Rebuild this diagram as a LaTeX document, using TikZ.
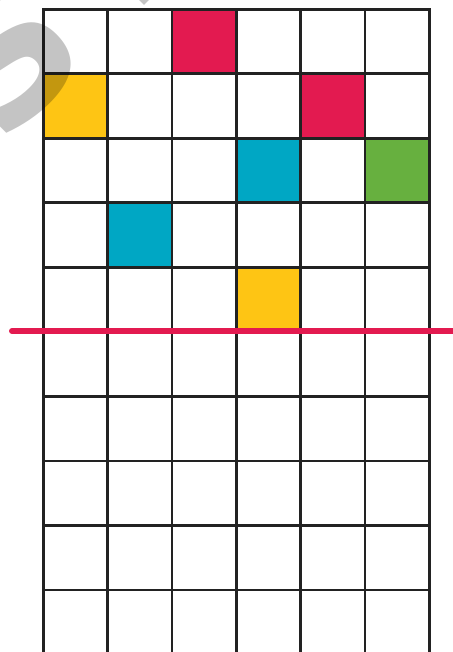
\documentclass[tikz,border=0pt]{standalone}
\usepackage{fontspec}
\newfontfamily\wmfont{DejaVu Sans}
\definecolor{cred}{HTML}{E31A50}
\definecolor{cyellow}{HTML}{FEC514}
\definecolor{cblue}{HTML}{00A7C4}
\definecolor{cgreen}{HTML}{67B03F}
\definecolor{cgrid}{HTML}{222222}
\begin{document}
\begin{tikzpicture}[x=1pt,y=-1pt,
  cell/.style={draw=cgrid, line width=2.6pt, minimum width=64.33pt, minimum height=64.5pt, inner sep=0pt, anchor=north west},
  divider/.style={draw=cred, line width=6pt, line cap=round},
  wmark/.style={font=\wmfont\bfseries\fontsize{185}{185}\selectfont, text=black, text opacity=0.23, rotate=45, anchor=base west, inner sep=0pt}]
\useasboundingbox (0,0) rectangle (452,652);
\fill[white] (0,0) rectangle (452,652);
% grid cells
\foreach \c in {0,...,5}{
  \foreach \r in {0,...,9}{
    \node[cell] (c\c r\r) at ({42+64.33*\c},{8+64.5*\r}) {};
  }
}
% coloured cells
\foreach \c/\r/\col in {2/0/cred, 0/1/cyellow, 4/1/cred, 3/2/cblue, 5/2/cgreen, 1/3/cblue, 3/4/cyellow}{
  \node[cell, fill=\col] (f\c r\r) at ({42+64.33*\c},{8+64.5*\r}) {};
}
% divider line
\coordinate (lstart) at (12,331);
\coordinate (lend) at (462,331);
\draw[divider] (lstart) -- (lend);
% watermark
\node[wmark] (wm1) at (1.5,148.5) {S};
\node[wmark] (wm2) at (132,18) {P};
\end{tikzpicture}
\end{document}
